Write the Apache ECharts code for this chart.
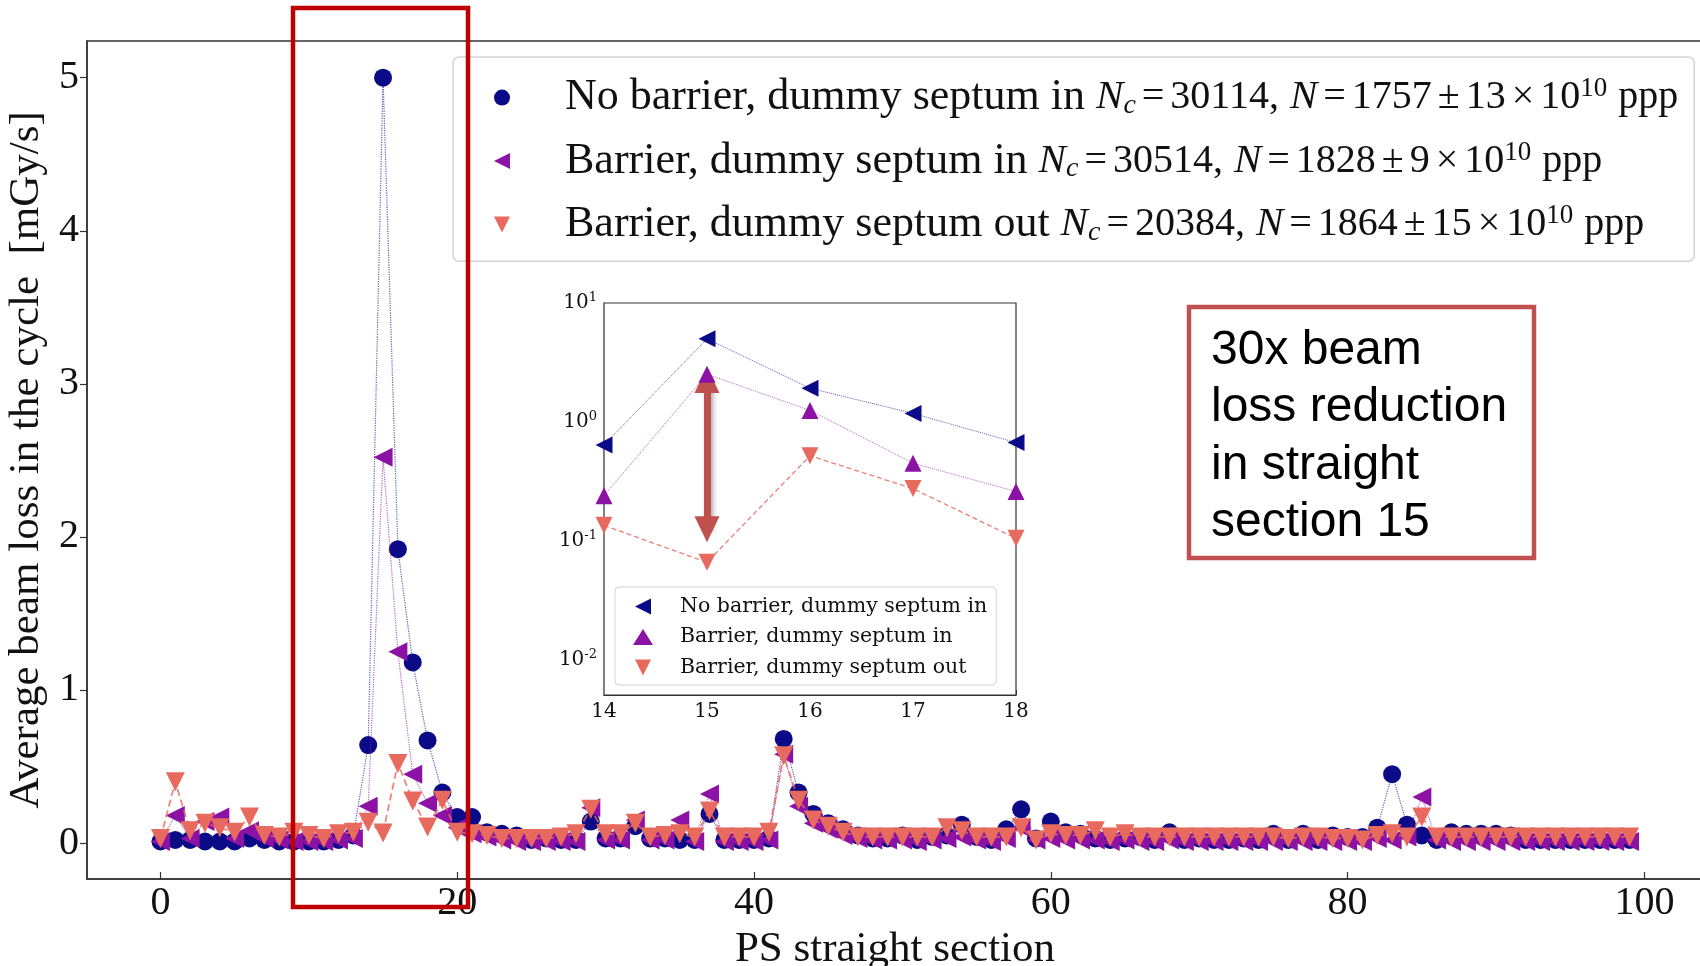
<!DOCTYPE html>
<html>
<head>
<meta charset="utf-8">
<script src="https://cdn.jsdelivr.net/npm/echarts@6/dist/echarts.min.js"></script>
<style>
  html, body { margin: 0; padding: 0; background: #ffffff; }
  #chart { width: 1700px; height: 966px; }
</style>
</head>
<body>
<div id="chart"></div>
<script>
// PS straight sections along the ring
const sections = [
  0, 1, 2, 3, 4, 5, 6, 7, 8, 9, 10, 11, 12, 13, 14, 15, 16, 17, 18, 19,
  20, 21, 22, 23, 24, 25, 26, 27, 28, 29, 30, 31, 32, 33, 34, 35, 36, 37, 38, 39,
  40, 41, 42, 43, 44, 45, 46, 47, 48, 49, 50, 51, 52, 53, 54, 55, 56, 57, 58, 59,
  60, 61, 62, 63, 64, 65, 66, 67, 68, 69, 70, 71, 72, 73, 74, 75, 76, 77, 78, 79,
  80, 81, 82, 83, 84, 85, 86, 87, 88, 89, 90, 91, 92, 93, 94, 95, 96, 97, 98, 99
];

// Average beam loss in the cycle [mGy/s], one value per straight section
const lossNoBarrierIn = [
  0.01, 0.02, 0.02, 0.01, 0.01, 0.01, 0.03, 0.02, 0.01, 0.01,
  0.01, 0.01, 0.02, 0.05, 0.64, 5.00, 1.92, 1.18, 0.67, 0.33,
  0.17, 0.17, 0.07, 0.06, 0.05, 0.02, 0.03, 0.02, 0.02, 0.14,
  0.03, 0.03, 0.11, 0.03, 0.03, 0.02, 0.02, 0.19, 0.02, 0.02,
  0.02, 0.03, 0.68, 0.33, 0.19, 0.13, 0.09, 0.05, 0.03, 0.03,
  0.05, 0.02, 0.04, 0.05, 0.12, 0.04, 0.02, 0.09, 0.22, 0.03,
  0.14, 0.07, 0.06, 0.03, 0.02, 0.03, 0.04, 0.02, 0.07, 0.02,
  0.03, 0.02, 0.02, 0.03, 0.02, 0.06, 0.02, 0.06, 0.02, 0.05,
  0.04, 0.04, 0.10, 0.45, 0.12, 0.05, 0.02, 0.07, 0.06, 0.06,
  0.06, 0.05, 0.02, 0.02, 0.02, 0.02, 0.02, 0.02, 0.02, 0.02
];
const lossBarrierIn = [
  0.01, 0.18, 0.03, 0.14, 0.17, 0.03, 0.08, 0.03, 0.02, 0.01,
  0.01, 0.01, 0.02, 0.03, 0.24, 2.52, 1.25, 0.45, 0.26, 0.18,
  0.10, 0.06, 0.04, 0.02, 0.01, 0.01, 0.01, 0.01, 0.01, 0.23,
  0.02, 0.02, 0.15, 0.02, 0.02, 0.15, 0.01, 0.32, 0.01, 0.01,
  0.01, 0.02, 0.58, 0.24, 0.13, 0.09, 0.05, 0.03, 0.02, 0.02,
  0.02, 0.01, 0.02, 0.03, 0.04, 0.02, 0.01, 0.03, 0.10, 0.02,
  0.03, 0.02, 0.02, 0.02, 0.01, 0.02, 0.01, 0.01, 0.02, 0.01,
  0.01, 0.01, 0.01, 0.01, 0.01, 0.01, 0.01, 0.01, 0.01, 0.01,
  0.01, 0.01, 0.03, 0.02, 0.04, 0.30, 0.02, 0.01, 0.01, 0.01,
  0.01, 0.01, 0.01, 0.01, 0.01, 0.01, 0.01, 0.01, 0.01, 0.01
];
const lossBarrierOut = [
  0.03, 0.40, 0.08, 0.13, 0.10, 0.07, 0.17, 0.05, 0.04, 0.07,
  0.05, 0.03, 0.06, 0.07, 0.135, 0.066, 0.52, 0.275, 0.105, 0.28,
  0.07, 0.06, 0.05, 0.03, 0.03, 0.03, 0.03, 0.04, 0.06, 0.22,
  0.06, 0.06, 0.13, 0.04, 0.05, 0.06, 0.04, 0.21, 0.04, 0.04,
  0.04, 0.07, 0.57, 0.28, 0.15, 0.11, 0.07, 0.04, 0.04, 0.04,
  0.04, 0.04, 0.04, 0.10, 0.08, 0.04, 0.04, 0.04, 0.10, 0.02,
  0.06, 0.05, 0.05, 0.08, 0.04, 0.06, 0.04, 0.04, 0.04, 0.04,
  0.04, 0.04, 0.04, 0.04, 0.04, 0.04, 0.03, 0.04, 0.04, 0.03,
  0.03, 0.02, 0.05, 0.06, 0.04, 0.17, 0.04, 0.04, 0.04, 0.04,
  0.04, 0.04, 0.04, 0.04, 0.04, 0.04, 0.04, 0.04, 0.04, 0.04
];

const seriesNames = [
  'No barrier, dummy septum in',
  'Barrier, dummy septum in',
  'Barrier, dummy septum out'
];
// Number of cycles and mean intensity (x 10^10 ppp) for each configuration
const cycleCounts = [30114, 30514, 20384];
const intensityMean = [1757, 1828, 1864];
const intensityErr = [13, 9, 15];

const xTicks = [0, 20, 40, 60, 80, 100];
const yTicks = [0, 1, 2, 3, 4, 5];
// Close-up on the sections around the septum
const zoomSections = [14, 15, 16, 17, 18];
const zoomMinorTicks = [
  0.006, 0.007, 0.008, 0.009,
  0.02, 0.03, 0.04, 0.05, 0.06, 0.07, 0.08, 0.09,
  0.2, 0.3, 0.4, 0.5, 0.6, 0.7, 0.8, 0.9,
  2, 3, 4, 5, 6, 7, 8, 9
];
// Ends of the reduction arrow in section 15 (mGy/s)
const arrowSpan = [2.25, 0.125];
const noteLines = ['30x beam', 'loss reduction', 'in straight', 'section 15'];

const NAVY = '#0b0b88';
const PURPLE = '#8c12a6';
const SALMON = '#e8695e';
const INK = '#111111';
const SERIF = 'Liberation Serif';
const SYM_LEFT = 'path://M0,5L10,0L10,10Z';
const SYM_DOWN = 'path://M0,0L10,0L5,10Z';

const chart = echarts.init(document.getElementById('chart'), null, { renderer: 'canvas' });

const pairs = (arr) => sections.map((s, i) => [s, arr[i]]);
const zoomPairs = (arr) => zoomSections.map((s) => [s, arr[sections.indexOf(s)]]);

// Legend entry: plain name followed by the cycle count and intensity in math style
function mainLegendLabel(name) {
  const k = seriesNames.indexOf(name);
  return '{sp|}{t|' + name + '}{g2|}{i|N}{sub|c}{g|}{m|=}{g|}{m|' + cycleCounts[k] + ',}{g2|}' +
    '{i|N}{g|}{m|=}{g|}{m|' + intensityMean[k] + '}{g|}{m|\u00b1}{g|}{m|' + intensityErr[k] + '}{g|}' +
    '{m|\u00d7}{g|}{m|10}{sup|10}{g2|}{m|ppp}';
}

function logLabel(value) {
  const n = Math.round(Math.log10(value));
  if (Math.abs(value - Math.pow(10, n)) > 1e-6 * Math.pow(10, n)) return '';
  return '{b|10}{s|' + n + '}';
}

const option = {
  animation: false,
  backgroundColor: '#ffffff',
  textStyle: { fontFamily: SERIF, color: INK },
  grid: [
    {
      left: 87, top: 41, width: 1616, bottom: 87, outerBoundsMode: 'none', containLabel: false,
      show: true, borderColor: '#333', borderWidth: 1.5, backgroundColor: 'transparent'
    },
    {
      left: 604, top: 303, width: 412, height: 392, outerBoundsMode: 'none', containLabel: false,
      show: true, borderColor: '#333', borderWidth: 1.2, backgroundColor: '#ffffff', z: 5
    }
  ],
  xAxis: [
    {
      type: 'value', gridIndex: 0, min: -4.95, max: 103.95,
      name: 'PS straight section', nameLocation: 'middle', nameGap: 37,
      nameTextStyle: { fontFamily: SERIF, fontSize: 43, color: INK },
      axisLine: { show: true, onZero: false, lineStyle: { color: '#333', width: 1.5 } },
      axisTick: { show: true, inside: true, length: 7, customValues: xTicks, lineStyle: { color: '#333', width: 1.2 } },
      axisLabel: { customValues: xTicks, margin: 4, fontFamily: SERIF, fontSize: 40, color: INK },
      splitLine: { show: false }
    },
    {
      type: 'value', gridIndex: 1, min: 14, max: 18, interval: 1,
      axisLine: { show: true, lineStyle: { color: '#333', width: 1.2 } },
      axisTick: { show: true, inside: true, length: 5, lineStyle: { color: '#333' } },
      axisLabel: { margin: 7, fontFamily: 'DejaVu Serif', fontSize: 20, color: INK },
      splitLine: { show: false }
    }
  ],
  yAxis: [
    {
      type: 'value', gridIndex: 0, min: -0.235, max: 5.24,
      name: 'Average beam loss in the cycle  [mGy/s]', nameLocation: 'middle', nameGap: 30,
      nameTextStyle: { fontFamily: SERIF, fontSize: 43, color: INK },
      axisLine: { show: true, onZero: false, lineStyle: { color: '#333', width: 1.5 } },
      axisTick: { show: true, inside: false, length: 7, customValues: yTicks, lineStyle: { color: '#333', width: 1.2 } },
      axisLabel: { customValues: yTicks, margin: 8, fontFamily: SERIF, fontSize: 40, color: INK },
      splitLine: { show: false }
    },
    {
      type: 'log', logBase: 10, gridIndex: 1, min: 0.00506, max: 10,
      axisLine: { show: true, lineStyle: { color: '#333', width: 1.2 } },
      axisTick: { show: true, inside: true, length: 6, lineStyle: { color: '#333' } },
      axisLabel: {
        margin: 7, formatter: logLabel,
        rich: {
          b: { fontFamily: 'DejaVu Serif', fontSize: 20, lineHeight: 24, color: INK },
          s: { fontFamily: 'DejaVu Serif', fontSize: 13, lineHeight: 14, verticalAlign: 'top', color: INK }
        }
      },
      splitLine: { show: false }
    },
    {
      type: 'log', logBase: 10, gridIndex: 1, min: 0.00506, max: 10,
      axisLine: { show: false },
      axisTick: { show: true, inside: true, length: 3.5, customValues: zoomMinorTicks, lineStyle: { color: '#333', width: 0.8 } },
      axisLabel: { show: false },
      splitLine: { show: false }
    }
  ],
  legend: [
    {
      data: [
        { name: seriesNames[0], icon: 'circle' },
        { name: seriesNames[1], icon: SYM_LEFT },
        { name: seriesNames[2], icon: SYM_DOWN }
      ],
      orient: 'vertical', left: 453, top: 57,
      itemWidth: 16, itemHeight: 16, itemGap: 19.5,
      padding: [18.6, 16, 14.6, 41],
      backgroundColor: 'rgba(255,255,255,0.85)', borderColor: '#d4d4d4', borderWidth: 1.5, borderRadius: 6,
      formatter: mainLegendLabel,
      textStyle: {
        rich: {
          sp: { width: 50 },
          g: { width: 6 },
          g2: { width: 11 },
          t: { fontFamily: SERIF, fontSize: 44, lineHeight: 44, color: INK },
          m: { fontFamily: SERIF, fontSize: 40, lineHeight: 44, color: INK },
          i: { fontFamily: SERIF, fontStyle: 'italic', fontSize: 41, lineHeight: 44, color: INK },
          sub: { fontFamily: SERIF, fontStyle: 'italic', fontSize: 28, lineHeight: 30, verticalAlign: 'bottom', color: INK },
          sup: { fontFamily: SERIF, fontSize: 27, lineHeight: 20, verticalAlign: 'top', color: INK }
        }
      },
      z: 6
    },
    {
      data: [
        { name: seriesNames[0], icon: SYM_LEFT },
        { name: seriesNames[1], icon: 'triangle' },
        { name: seriesNames[2], icon: SYM_DOWN }
      ],
      orient: 'vertical', left: 615, top: 587,
      itemWidth: 20, itemHeight: 16, itemGap: 9.5,
      padding: [9, 9, 7, 18],
      backgroundColor: 'rgba(255,255,255,0.85)', borderColor: '#d4d4d4', borderWidth: 1, borderRadius: 4,
      formatter: (name) => '{sp|}{t|' + name + '}',
      textStyle: {
        rich: {
          sp: { width: 22 },
          t: { fontFamily: 'DejaVu Serif', fontSize: 20.5, lineHeight: 21, color: INK }
        }
      },
      z: 8
    }
  ],
  series: [
    {
      name: seriesNames[0], type: 'line', xAxisIndex: 0, yAxisIndex: 0,
      data: pairs(lossNoBarrierIn), symbol: 'circle', symbolSize: 18,
      itemStyle: { color: NAVY },
      lineStyle: { color: NAVY, width: 1.2, type: 'dotted', opacity: 0.65 },
      z: 2
    },
    {
      name: seriesNames[1], type: 'line', xAxisIndex: 0, yAxisIndex: 0,
      data: pairs(lossBarrierIn), symbol: SYM_LEFT, symbolSize: 19,
      itemStyle: { color: PURPLE },
      lineStyle: { color: PURPLE, width: 1.2, type: 'dotted', opacity: 0.65 },
      z: 3
    },
    {
      name: seriesNames[2], type: 'line', xAxisIndex: 0, yAxisIndex: 0,
      data: pairs(lossBarrierOut), symbol: SYM_DOWN, symbolSize: 19,
      itemStyle: { color: SALMON },
      lineStyle: { color: SALMON, width: 1.8, type: [7, 4], opacity: 0.8 },
      z: 4
    },
    {
      name: seriesNames[0], type: 'line', xAxisIndex: 1, yAxisIndex: 1,
      data: zoomPairs(lossNoBarrierIn), symbol: SYM_LEFT, symbolSize: 17,
      itemStyle: { color: NAVY },
      lineStyle: { color: NAVY, width: 1, type: 'dotted', opacity: 0.65 },
      z: 6
    },
    {
      name: seriesNames[1], type: 'line', xAxisIndex: 1, yAxisIndex: 1,
      data: zoomPairs(lossBarrierIn), symbol: 'triangle', symbolSize: 17,
      itemStyle: { color: PURPLE },
      lineStyle: { color: PURPLE, width: 1, type: 'dotted', opacity: 0.65 },
      z: 6
    },
    {
      name: seriesNames[2], type: 'line', xAxisIndex: 1, yAxisIndex: 1,
      data: zoomPairs(lossBarrierOut), symbol: SYM_DOWN, symbolSize: 17,
      itemStyle: { color: SALMON },
      lineStyle: { color: SALMON, width: 1.3, type: [5, 3], opacity: 0.85 },
      markLine: {
        silent: true, animation: false,
        symbol: ['triangle', 'triangle'], symbolSize: [25, 26],
        label: { show: false },
        lineStyle: {
          color: '#c0504d', width: 7, type: 'solid', opacity: 1,
          shadowColor: 'rgba(0,0,0,0.35)', shadowBlur: 5, shadowOffsetX: 2, shadowOffsetY: 2
        },
        data: [[{ coord: [15, arrowSpan[0]] }, { coord: [15, arrowSpan[1]] }]]
      },
      z: 7
    }
  ],
  graphic: [
    {
      type: 'rect', silent: true, z: 20,
      shape: { x: 293, y: 8, width: 175, height: 899 },
      style: { fill: 'none', stroke: '#c00000', lineWidth: 4.5 }
    },
    {
      type: 'group', silent: true, z: 20,
      children: [
        {
          type: 'rect',
          shape: { x: 1189, y: 307, width: 345, height: 251 },
          style: { fill: '#ffffff', stroke: '#c0504d', lineWidth: 4.5 }
        },
        {
          type: 'text', x: 1211, y: 322,
          style: {
            text: noteLines.join('\n'), fill: '#000000',
            font: '48px "Liberation Sans", Arial, sans-serif', lineHeight: 57.5
          }
        }
      ]
    }
  ]
};

chart.setOption(option);
</script>
</body>
</html>
